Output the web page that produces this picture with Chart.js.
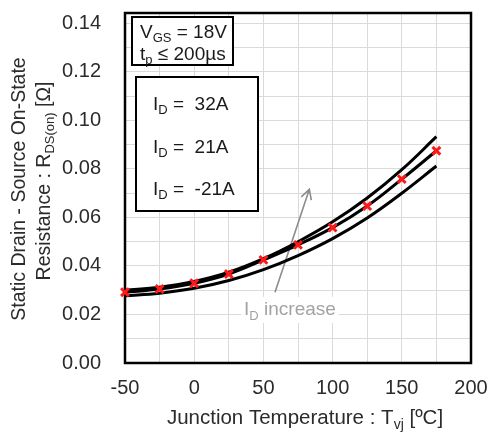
<!DOCTYPE html>
<html>
<head>
<meta charset="utf-8">
<script src="https://cdn.jsdelivr.net/npm/chart.js@4/dist/chart.umd.min.js"></script>
<style>
  html, body { margin: 0; padding: 0; background: #ffffff; }
  canvas { display: block; }
</style>
</head>
<body>
<canvas id="rds" width="488" height="432"></canvas>
<script>
// Junction temperature (°C) sample points
const temps = [-50, -25, 0, 25, 50, 75, 100, 125, 150, 175];
// R_DS(on) in ohms for each drain current
const rdsId32 = [0.0300, 0.0312, 0.0336, 0.0374, 0.0430, 0.0500, 0.0582, 0.0680, 0.0797, 0.0933];
const rdsId21 = [0.0292, 0.0305, 0.0329, 0.0367, 0.0425, 0.0487, 0.0558, 0.0647, 0.0758, 0.0875];
const rdsIdNeg21 = [0.0277, 0.0288, 0.0308, 0.0340, 0.0385, 0.0443, 0.0513, 0.0598, 0.0700, 0.0812];
// Measured points (red crosses)
const markerTemps = [-50, -25, 0, 25, 50, 75, 100, 125, 150, 175];
const markerRds = [0.0292, 0.0305, 0.0329, 0.0367, 0.0425, 0.0487, 0.0558, 0.0647, 0.0758, 0.0875];

// Axis ranges, grid lines and labelled ticks
const xMin = -50, xMax = 200;
const xGrid = [-50, -25, 0, 25, 50, 75, 100, 125, 150, 175, 200];
const xLabels = [-50, 0, 50, 100, 150, 200];
const yMin = 0, yMax = 0.1443;
const yGrid = [0, 0.01, 0.02, 0.03, 0.04, 0.05, 0.06, 0.07, 0.08, 0.09, 0.10, 0.11, 0.12, 0.13, 0.14];
const yLabels = [0, 0.02, 0.04, 0.06, 0.08, 0.10, 0.12, 0.14];

// Arrow annotation, in data units: tail, head, and caption position
const arrowTail = { x: 58.4, y: 0.0292 };
const arrowHead = { x: 83.2, y: 0.0716 };
const captionAt = { x: 69.2, y: 0.0223 };

const FONT = '"Liberation Sans", Arial, Helvetica, sans-serif';
const TEXT = '#2b2b2b';

function pts(xs, ys) { return xs.map((x, i) => ({ x: x, y: ys[i] })); }
function isIn(list, v) { return list.some(u => Math.abs(u - v) < 1e-9); }

// Draws text made of runs, some of which are subscripts
function richWidth(ctx, runs, size) {
  let w = 0;
  runs.forEach(r => {
    ctx.font = (r.sub ? Math.round(size * 0.68) : size) + 'px ' + FONT;
    w += ctx.measureText(r.t).width;
  });
  return w;
}
function drawRich(ctx, runs, x, y, size, align) {
  const w = richWidth(ctx, runs, size);
  let cx = align === 'center' ? x - w / 2 : x;
  ctx.textBaseline = 'alphabetic';
  ctx.textAlign = 'left';
  runs.forEach(r => {
    const s = r.sub ? Math.round(size * 0.68) : size;
    ctx.font = s + 'px ' + FONT;
    ctx.fillText(r.t, cx, y + (r.sub ? size * 0.22 : 0));
    cx += ctx.measureText(r.t).width;
  });
}

const framePlugin = {
  id: 'frameAndNotes',
  beforeDatasetsDraw(chart) {
    const { ctx, chartArea: a, scales } = chart;
    ctx.save();
    // arrow
    const tx = scales.x.getPixelForValue(arrowTail.x), ty = scales.y.getPixelForValue(arrowTail.y);
    const hx = scales.x.getPixelForValue(arrowHead.x), hy = scales.y.getPixelForValue(arrowHead.y);
    ctx.strokeStyle = '#8c8c8c';
    ctx.lineWidth = 1.6;
    ctx.beginPath();
    ctx.moveTo(tx, ty);
    ctx.lineTo(hx, hy);
    const ang = Math.atan2(hy - ty, hx - tx);
    const L = 11, spread = 0.5;
    ctx.moveTo(hx - L * Math.cos(ang - spread), hy - L * Math.sin(ang - spread));
    ctx.lineTo(hx, hy);
    ctx.lineTo(hx - L * Math.cos(ang + spread), hy - L * Math.sin(ang + spread));
    ctx.stroke();
    // caption with white backing
    const cx = scales.x.getPixelForValue(captionAt.x), cy = scales.y.getPixelForValue(captionAt.y);
    const capRuns = [{ t: 'I' }, { t: 'D', sub: true }, { t: ' increase' }];
    const cw = richWidth(ctx, capRuns, 19);
    ctx.fillStyle = '#ffffff';
    ctx.fillRect(cx - cw / 2 - 3, cy - 12, cw + 6, 26);
    ctx.fillStyle = '#a3a3a3';
    drawRich(ctx, capRuns, cx, cy + 6.5, 19, 'center');
    // plot frame
    ctx.strokeStyle = '#000000';
    ctx.lineWidth = 2.5;
    ctx.strokeRect(a.left, a.top, a.right - a.left, a.bottom - a.top);
    ctx.restore();
  },
  afterDatasetsDraw(chart) {
    const { ctx, chartArea: a } = chart;
    ctx.save();
    ctx.fillStyle = '#ffffff';
    ctx.strokeStyle = '#000000';
    ctx.lineWidth = 2;
    // test-condition box
    ctx.fillRect(a.left + 7, a.top + 4, 101, 48);
    ctx.strokeRect(a.left + 7, a.top + 4, 101, 48);
    // current legend box
    ctx.fillRect(a.left + 11, a.top + 64, 122, 134);
    ctx.strokeRect(a.left + 11, a.top + 64, 122, 134);
    ctx.fillStyle = '#1a1a1a';
    drawRich(ctx, [{ t: 'V' }, { t: 'GS', sub: true }, { t: ' = 18V' }], a.left + 15, a.top + 25, 19, 'left');
    drawRich(ctx, [{ t: 't' }, { t: 'p', sub: true }, { t: ' \u2264 200\u00b5s' }], a.left + 15, a.top + 46.5, 19, 'left');
    const labels = ['32A', '21A', '-21A'];
    labels.forEach((s, i) => {
      drawRich(ctx, [{ t: 'I' }, { t: 'D', sub: true }, { t: ' =  ' + s }], a.left + 28, a.top + 97 + i * 42.5, 19, 'left');
    });
    ctx.restore();
  },
  afterDraw(chart) {
    const { ctx, chartArea: a } = chart;
    ctx.save();
    ctx.fillStyle = TEXT;
    // x title
    drawRich(ctx, [{ t: 'Junction Temperature : T' }, { t: 'vj', sub: true }, { t: ' [\u00baC]' }],
      (a.left + a.right) / 2 + 7, 424, 20.5, 'center');
    // y title, two rotated lines
    ctx.save();
    ctx.translate(24.5, 189);
    ctx.rotate(-Math.PI / 2);
    drawRich(ctx, [{ t: 'Static Drain - Source On-State' }], 0, 0, 19.5, 'center');
    ctx.restore();
    ctx.save();
    ctx.translate(49.5, 181);
    ctx.rotate(-Math.PI / 2);
    drawRich(ctx, [{ t: 'Resistance : R' }, { t: 'DS(on)', sub: true }, { t: ' [\u03a9]' }], 0, 0, 19.5, 'center');
    ctx.restore();
    ctx.restore();
  }
};

const curveStyle = {
  borderColor: '#000000',
  borderWidth: 3,
  pointRadius: 0,
  fill: false,
  tension: 0.4
};

new Chart(document.getElementById('rds'), {
  type: 'line',
  data: {
    datasets: [
      Object.assign({ label: 'ID = 32A', data: pts(temps, rdsId32), order: 3 }, curveStyle),
      Object.assign({ label: 'ID = 21A', data: pts(temps, rdsId21), order: 2 }, curveStyle),
      Object.assign({ label: 'ID = -21A', data: pts(temps, rdsIdNeg21), order: 4 }, curveStyle),
      {
        label: 'measured',
        data: pts(markerTemps, markerRds),
        showLine: false,
        pointStyle: 'crossRot',
        pointRadius: 5.5,
        pointBorderWidth: 3,
        pointBorderColor: '#ff1a1a',
        pointBackgroundColor: '#ff1a1a',
        clip: false,
        order: 1
      }
    ]
  },
  options: {
    responsive: false,
    animation: false,
    events: [],
    layout: { padding: { left: 0, right: 17, top: 13, bottom: 0 } },
    plugins: { legend: { display: false }, tooltip: { enabled: false } },
    scales: {
      x: {
        type: 'linear',
        min: xMin, max: xMax,
        grid: { color: '#dadada', lineWidth: 1, drawTicks: false },
        border: { display: false },
        afterBuildTicks: s => { s.ticks = xGrid.map(v => ({ value: v })); },
        ticks: {
          autoSkip: false,
          maxRotation: 0,
          padding: 13,
          color: TEXT,
          font: { family: FONT, size: 20 },
          callback: v => (isIn(xLabels, v) ? String(v) : '')
        },
        afterFit: s => { s.height = 69; s.paddingLeft = 0; s.paddingRight = 0; }
      },
      y: {
        type: 'linear',
        min: yMin, max: yMax,
        grid: { color: '#dadada', lineWidth: 1, drawTicks: false },
        border: { display: false },
        afterBuildTicks: s => { s.ticks = yGrid.map(v => ({ value: v })); },
        ticks: {
          autoSkip: false,
          padding: 24,
          color: TEXT,
          font: { family: FONT, size: 20 },
          callback: v => (isIn(yLabels, v) ? v.toFixed(2) : '')
        },
        afterFit: s => { s.width = 125; s.paddingTop = 0; s.paddingBottom = 0; }
      }
    }
  },
  plugins: [framePlugin]
});
</script>
</body>
</html>
